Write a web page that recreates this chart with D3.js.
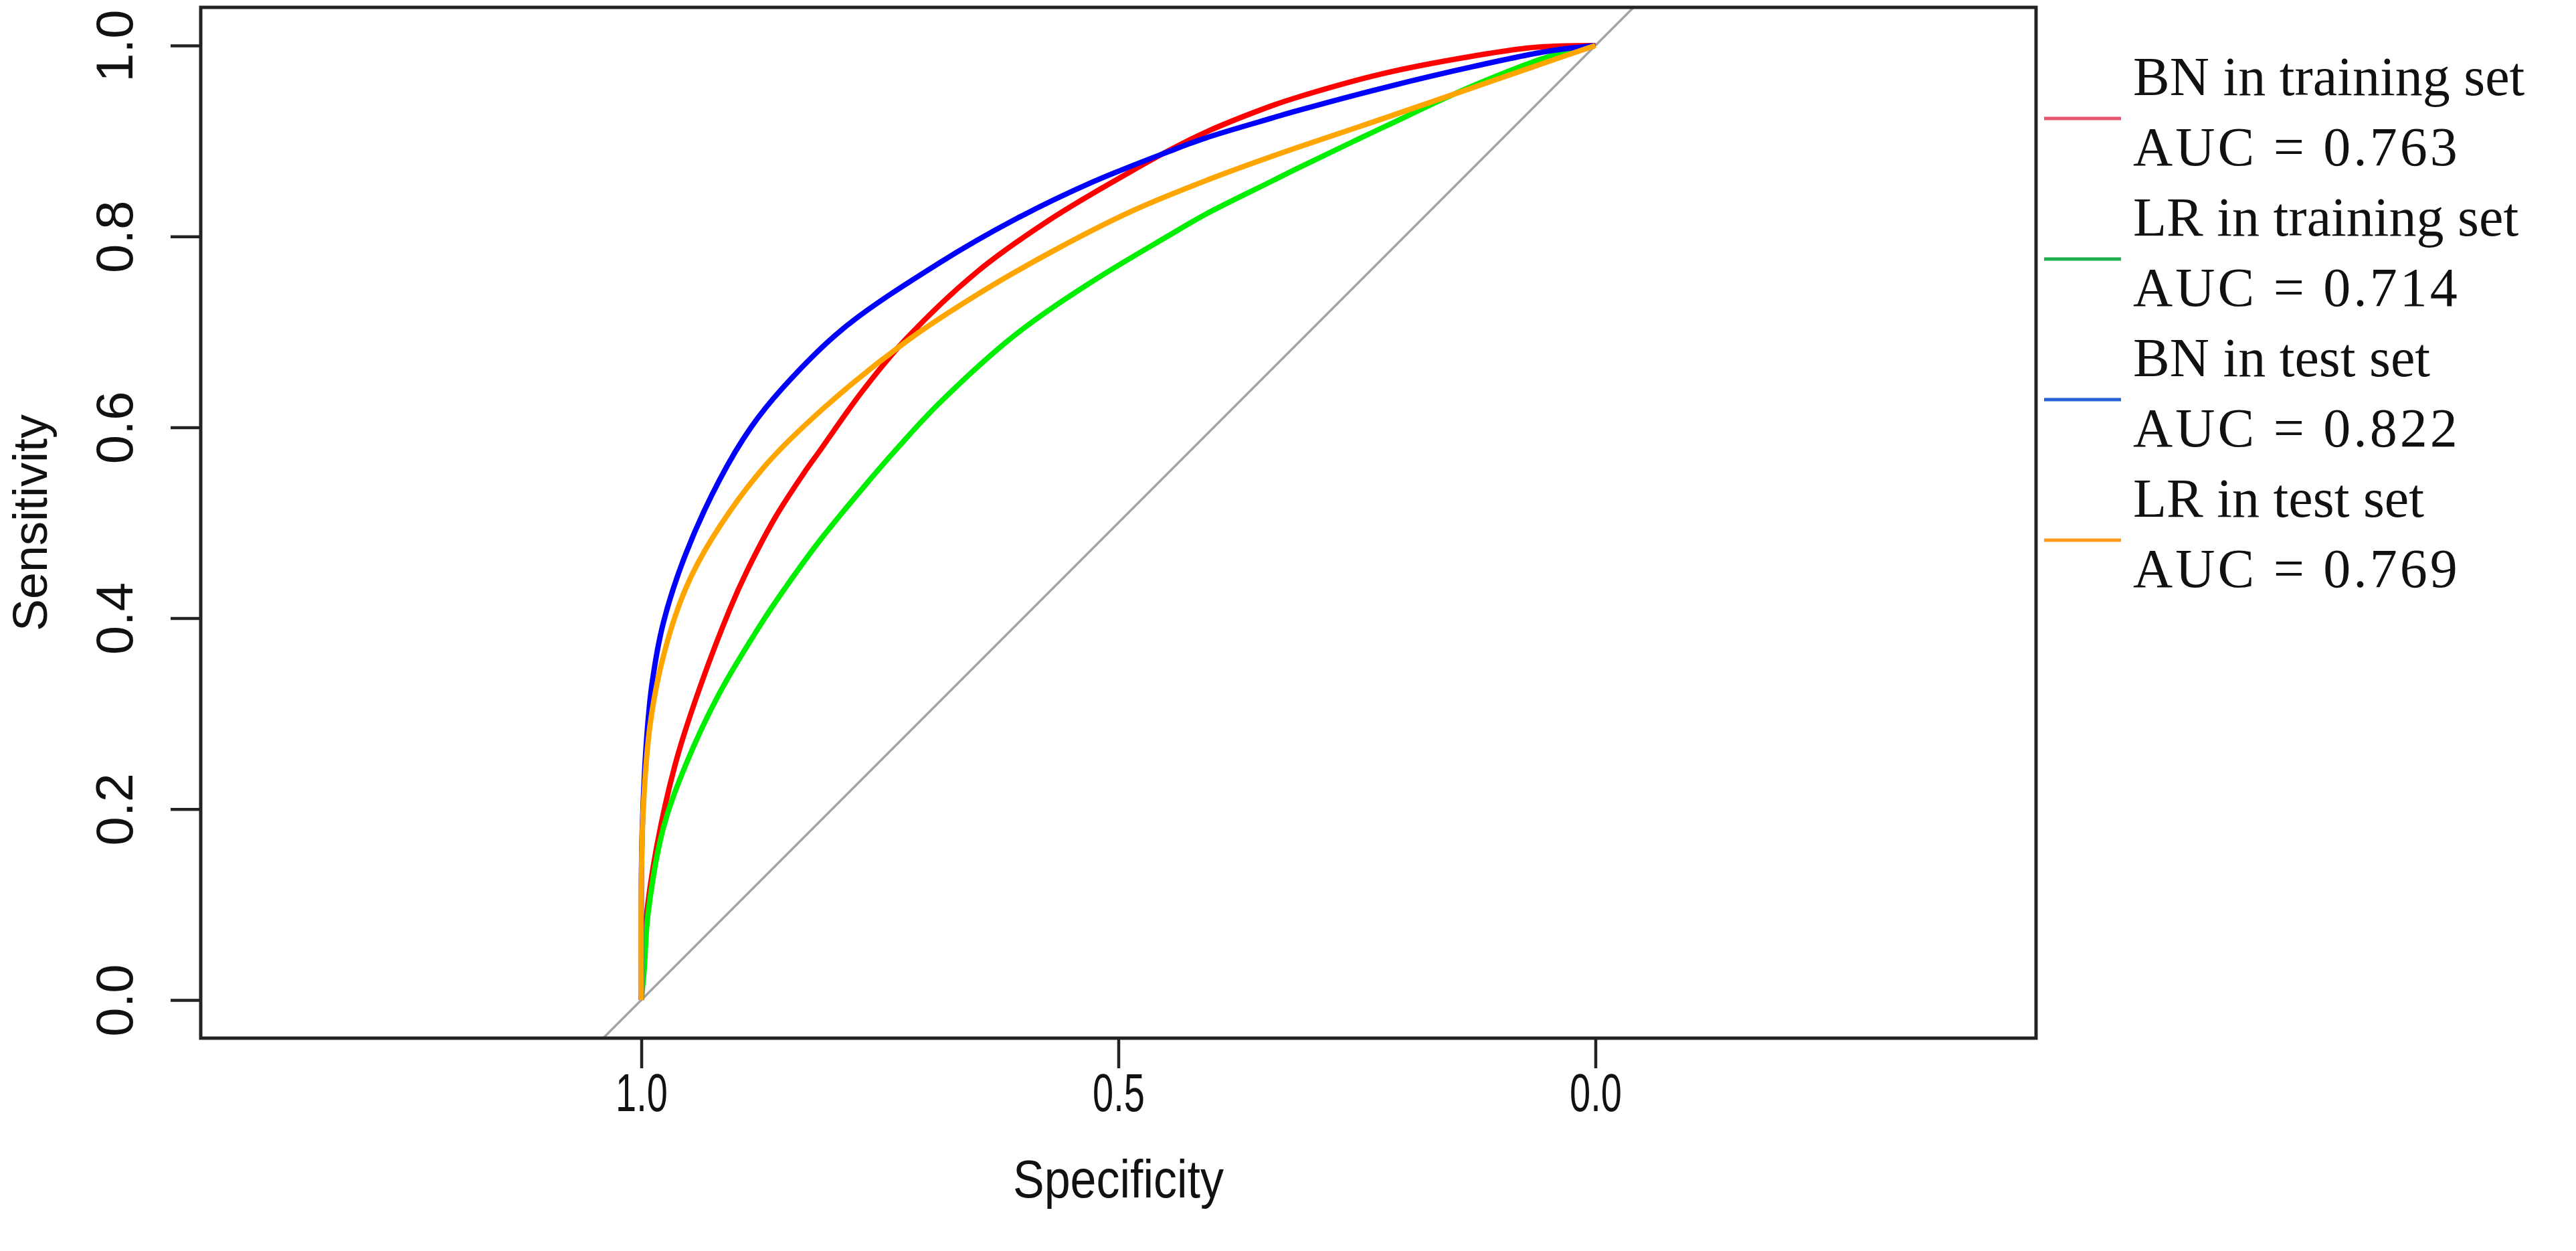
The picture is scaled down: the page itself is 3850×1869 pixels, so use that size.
<!DOCTYPE html>
<html>
<head>
<meta charset="utf-8">
<script src="https://cdn.jsdelivr.net/npm/d3@7"></script>
<style>
  body { margin: 0; background: #fff; }
  svg { display: block; background: #fff; }
</style>
</head>
<body>
<svg id="chart" width="3850" height="1869"></svg>
<script>
// Tick labels
var xTicks = [1.0, 0.5, 0.0];
var yTicks = [0.0, 0.2, 0.4, 0.6, 0.8, 1.0];

// Legend entries
var seriesNames = ["BN in training set", "LR in training set", "BN in test set", "LR in test set"];
var seriesAUC = ["0.763", "0.714", "0.822", "0.769"];
var curveColors = ["#ff0000", "#00ee00", "#0000ff", "#ffa500"];
var legendColors = ["#e9536b", "#1eaf4b", "#2461d8", "#ff9a1c"];

// ROC points (specificity, sensitivity)
var bnTrainSpec = [1, 0.998, 0.995, 0.984, 0.965, 0.943, 0.907, 0.889, 0.86, 0.829, 0.814, 0.769, 0.725, 0.648, 0.568, 0.487, 0.451, 0.409, 0.339, 0.315, 0.221, 0.128, 0.065, 0];
var bnTrainSens = [0, 0.04, 0.085, 0.16, 0.245, 0.315, 0.41, 0.45, 0.505, 0.553, 0.574, 0.637, 0.69, 0.763, 0.82, 0.868, 0.888, 0.909, 0.937, 0.945, 0.971, 0.989, 0.998, 1];

var lrTrainSpec = [1, 0.997, 0.993, 0.977, 0.954, 0.92, 0.872, 0.849, 0.814, 0.769, 0.73, 0.688, 0.608, 0.527, 0.447, 0.409, 0.339, 0.315, 0.221, 0.128, 0.05, 0];
var lrTrainSens = [0, 0.032, 0.09, 0.18, 0.245, 0.318, 0.398, 0.432, 0.48, 0.535, 0.58, 0.625, 0.697, 0.753, 0.801, 0.823, 0.858, 0.870, 0.915, 0.958, 0.988, 1];

var bnTestSpec = [1, 1, 0.999, 0.995, 0.989, 0.977, 0.954, 0.918, 0.885, 0.853, 0.789, 0.688, 0.608, 0.527, 0.447, 0.409, 0.339, 0.315, 0.221, 0.128, 0.05, 0];
var bnTestSens = [0, 0.12, 0.18, 0.266, 0.33, 0.395, 0.466, 0.545, 0.6, 0.64, 0.703, 0.772, 0.818, 0.857, 0.889, 0.903, 0.924, 0.931, 0.956, 0.978, 0.994, 1];

var lrTestSpec = [1, 1, 0.998, 0.991, 0.977, 0.954, 0.925, 0.87, 0.809, 0.725, 0.648, 0.568, 0.487, 0.407, 0.339, 0.221, 0.128, 0.05, 0];
var lrTestSens = [0, 0.12, 0.2, 0.287, 0.36, 0.43, 0.485, 0.56, 0.62, 0.688, 0.739, 0.785, 0.826, 0.859, 0.884, 0.924, 0.956, 0.983, 1];

function main(){
    var svg = d3.select("#chart");
    var left = 300, right = 3043, top = 11, bottom = 1551;
    var axisFont = "'Liberation Sans', Arial, sans-serif";
    var serifFont = "'Liberation Serif', 'Times New Roman', serif";

    // Equal units on both axes, specificity runs backwards
    var half = (right - left) / 2 / ((bottom - top) / 1.08);
    var xScale = d3.scaleLinear().domain([0.5 + half, 0.5 - half]).range([left, right]);
    var yScale = d3.scaleLinear().domain([-0.04, 1.04]).range([bottom, top]);

    svg.append("clipPath").attr("id", "plotclip")
        .append("rect")
        .attr("x", left).attr("y", top)
        .attr("width", right - left).attr("height", bottom - top);

    // Chance line
    svg.append("line")
        .attr("clip-path", "url(#plotclip)")
        .attr("x1", xScale(1.6)).attr("y1", yScale(-0.6))
        .attr("x2", xScale(-0.6)).attr("y2", yScale(1.6))
        .attr("stroke", "#a3a3a3")
        .attr("stroke-width", 3.5);

    // Curves
    var series = [
        {spec: bnTrainSpec, sens: bnTrainSens},
        {spec: lrTrainSpec, sens: lrTrainSens},
        {spec: bnTestSpec, sens: bnTestSens},
        {spec: lrTestSpec, sens: lrTestSens}
    ];
    var line = d3.line()
        .x(function(d){ return xScale(d[0]); })
        .y(function(d){ return yScale(d[1]); })
        .curve(d3.curveCatmullRom.alpha(0.5));
    series.forEach(function(s, i){
        var pts = s.spec.map(function(v, j){ return [v, s.sens[j]]; });
        svg.append("path")
            .attr("d", line(pts))
            .attr("fill", "none")
            .attr("stroke", curveColors[i])
            .attr("stroke-width", 8)
            .attr("stroke-linejoin", "round");
    });

    // Box
    svg.append("rect")
        .attr("x", left).attr("y", top)
        .attr("width", right - left).attr("height", bottom - top)
        .attr("fill", "none")
        .attr("stroke", "#222")
        .attr("stroke-width", 5);

    // X axis
    var gx = svg.append("g")
        .attr("transform", "translate(0," + bottom + ")")
        .call(d3.axisBottom(xScale).tickValues(xTicks).tickSize(45).tickFormat(d3.format(".1f")));
    gx.select(".domain").remove();
    gx.selectAll("line").attr("stroke", "#222").attr("stroke-width", 4.5);
    gx.selectAll("text")
        .attr("y", null).attr("dy", "0.36em")
        .attr("transform", "translate(0,80) scale(0.7,1)")
        .attr("font-family", axisFont).attr("font-size", 80).attr("fill", "#111");

    // Y axis
    var gy = svg.append("g")
        .attr("transform", "translate(" + left + ",0)")
        .call(d3.axisLeft(yScale).tickValues(yTicks).tickSize(45).tickFormat(d3.format(".1f")));
    gy.select(".domain").remove();
    gy.selectAll("line").attr("stroke", "#222").attr("stroke-width", 4.5);
    gy.selectAll("text")
        .attr("x", null).attr("dy", "0.36em")
        .attr("text-anchor", "middle")
        .attr("transform", "translate(-130,0) rotate(-90)")
        .attr("font-family", axisFont).attr("font-size", 78).attr("fill", "#111");

    // Axis titles
    svg.append("text")
        .attr("transform", "translate(" + (left + right) / 2 + ",1760) scale(0.875,1)")
        .attr("dy", "0.36em")
        .attr("text-anchor", "middle")
        .attr("font-family", axisFont).attr("font-size", 80).attr("fill", "#111")
        .text("Specificity");
    svg.append("text")
        .attr("transform", "translate(44," + (top + bottom) / 2 + ") rotate(-90)")
        .attr("dy", "0.36em")
        .attr("text-anchor", "middle")
        .attr("font-family", axisFont).attr("font-size", 72).attr("fill", "#111")
        .text("Sensitivity");

    // Legend
    var lg = svg.append("g").attr("transform", "translate(3055,142)");
    seriesNames.forEach(function(name, i){
        var y0 = i * 210;
        lg.append("line")
            .attr("x1", 0).attr("x2", 115)
            .attr("y1", y0 + 35).attr("y2", y0 + 35)
            .attr("stroke", legendColors[i])
            .attr("stroke-width", 5);
        lg.append("text")
            .attr("x", 133).attr("y", y0)
            .attr("font-family", serifFont)
            .attr("font-size", 82).attr("fill", "#111")
            .text(name);
        lg.append("text")
            .attr("x", 133).attr("y", y0 + 105)
            .attr("font-family", serifFont)
            .attr("font-size", 82).attr("fill", "#111")
            .attr("letter-spacing", 4)
            .text("AUC = " + seriesAUC[i]);
    });
}
main();
</script>
</body>
</html>
